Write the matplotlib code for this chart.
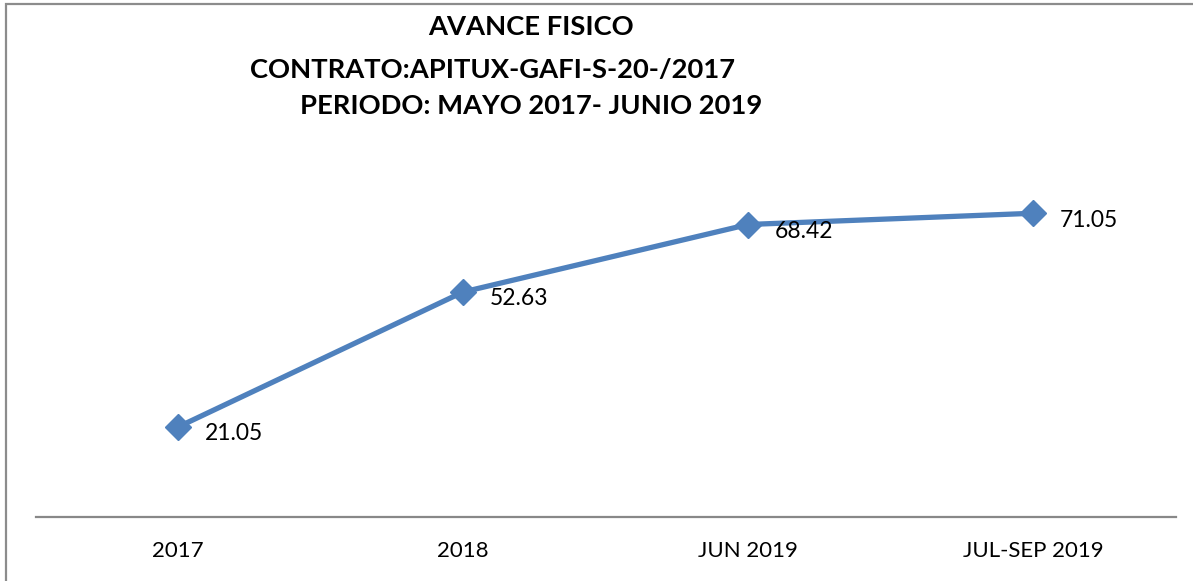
import matplotlib.pyplot as plt
import matplotlib.patches as mpatches

categories = ['2017', '2018', 'JUN 2019', 'JUL-SEP 2019']
avance = [21.05, 52.63, 68.42, 71.05]

W, H = 1193, 581
plt.rcParams['font.family'] = ['Lato', 'DejaVu Sans']

fig = plt.figure(figsize=(W/100, H/100), dpi=100)
# axes placed by pixel: x from 35.5 to 1175.5, y=0 at 517px, y=80 at 175px
ax = fig.add_axes([35.5/W, (H-517)/H, 1140/W, 342/H])
x = list(range(len(categories)))
ax.plot(x, avance, color='#4F81BD', linewidth=3.8, marker='D', markersize=13,
        solid_capstyle='round', zorder=3)
for xi, v in zip(x, avance):
    ax.annotate(f'{v:.2f}', (xi, v), xytext=(19, -5), textcoords='offset points',
                ha='left', va='center', fontsize=16.5, color='black')

ax.set_xlim(-0.5, 3.5)
ax.set_ylim(0, 80)
ax.set_xticks(x)
ax.set_xticklabels(categories, fontsize=16)
ax.tick_params(axis='x', length=0, pad=17)
ax.set_yticks([])
for s in ['top', 'right', 'left']:
    ax.spines[s].set_visible(False)
ax.spines['bottom'].set_color('#888888')
ax.spines['bottom'].set_linewidth(1.6)

# titles
fig.text(531/W, 1-27/H, 'AVANCE FISICO', ha='center', va='center',
         fontsize=19.7, fontweight='bold')
fig.text(250/W, 1-70/H, 'CONTRATO:APITUX-GAFI-S-20-/2017', ha='left', va='center',
         fontsize=19.7, fontweight='bold')
fig.text(300/W, 1-106/H, 'PERIODO: MAYO 2017- JUNIO 2019', ha='left', va='center',
         fontsize=19.7, fontweight='bold')

# outer chart border (right/bottom fall outside the image)
fig.patches.append(mpatches.Rectangle((6/W, -0.1), 1.2, 1 - 3.5/H + 0.1,
                                      transform=fig.transFigure, fill=False,
                                      edgecolor='#8c8c8c', linewidth=1.6))

fig.savefig('out.png', dpi=100)
